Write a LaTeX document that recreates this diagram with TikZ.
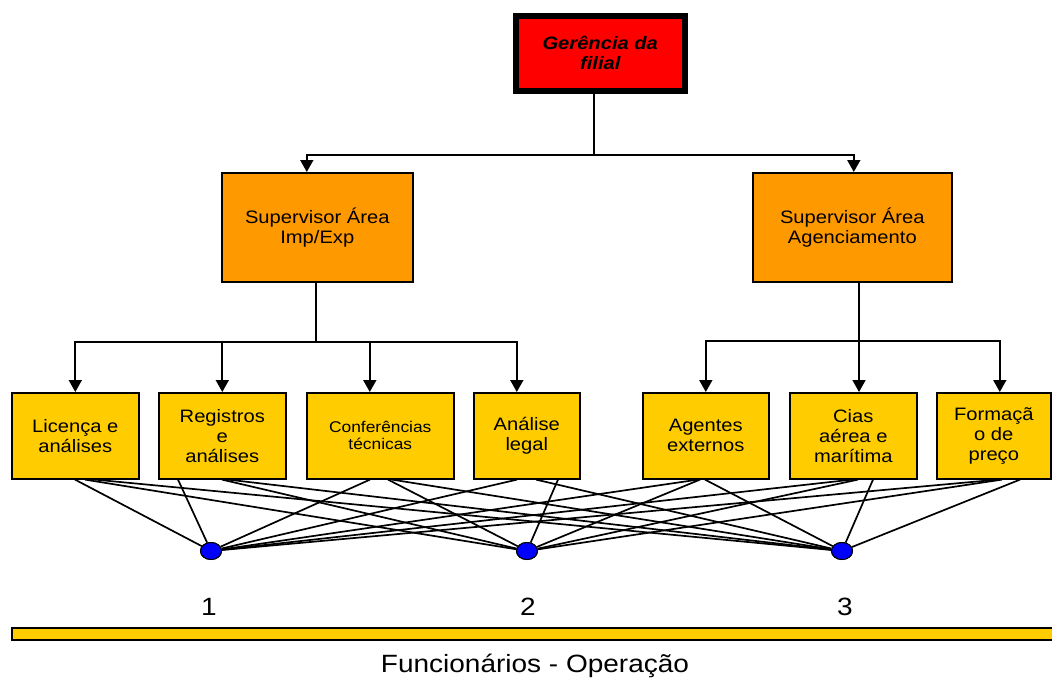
\documentclass[tikz,border=0pt]{standalone}
\usepackage{fontspec}
\setmainfont{Liberation Sans}[FakeStretch=1.12]
\usetikzlibrary{arrows.meta,shapes.geometric}
\definecolor{topred}{HTML}{FF0000}
\definecolor{suporange}{HTML}{FF9900}
\definecolor{leafyellow}{HTML}{FFCC00}
\definecolor{dotblue}{HTML}{0000FF}
\begin{document}
\begin{tikzpicture}[x=1pt,y=-1pt,
  box/.style={draw, line width=1.6pt, align=center, inner sep=0pt, anchor=north west,
              font=\fontsize{18}{20}\selectfont},
  leaf/.style={box, fill=leafyellow, minimum height=86pt},
  sup/.style={box, fill=suporange, minimum height=109pt},
  conn/.style={line width=1.7pt},
  arr/.style={conn, -{Triangle[width=13pt,length=12pt]}},
  dot/.style={ellipse, draw, fill=dotblue, line width=1pt, minimum width=21pt,
              minimum height=17pt, inner sep=0pt},
  num/.style={font=\fontsize{25}{28}\selectfont}]
\useasboundingbox (0,0) rectangle (1052,680);

% top box
\node[box, fill=topred, line width=5.5pt, minimum width=169pt, minimum height=75pt,
      font=\fontsize{18}{20}\selectfont\bfseries\itshape] (g) at (513,13) {Gerência da\\filial};
% supervisors
\node[sup, minimum width=191pt] (s1) at (221,172) {Supervisor Área\\Imp/Exp};
\node[sup, minimum width=199pt] (s2) at (752,172) {Supervisor Área\\Agenciamento};

% dots
\node[dot] (d1) at (211,551) {};
\node[dot] (d2) at (527,551) {};
\node[dot] (d3) at (842,551) {};

% top tree
\coordinate (j0) at (594,155);
\draw[conn] (j0 |- g.south) -- (j0);
\draw[arr] (j0) -| ([xshift=-10.5]s1.north);
\draw[arr] (j0) -| ([xshift=1.5]s2.north);

% leaves
\node[leaf, minimum width=127pt] (b1) at (11,392) {Licença e\\análises};
\node[leaf, minimum width=127pt] (b2) at (158,392) {Registros\\e\\análises};
\node[leaf, minimum width=147pt, font=\fontsize{15.5}{17}\selectfont] (b3) at (306,392) {Conferências\\técnicas};
\node[leaf, minimum width=106pt] (b4) at (473,392) {Análise\\legal};
\node[leaf, minimum width=126pt] (b5) at (642,392) {Agentes\\externos};
\node[leaf, minimum width=127pt] (b6) at (789,392) {Cias\\aérea e\\marítima};
\node[leaf, minimum width=114pt] (b7) at (936,392) {Formaçã\\o de\\preço};

% left sub-tree
\coordinate (j1) at (316,342);
\draw[conn] (j1 |- s1.south) -- (j1);
\draw[arr] (j1) -| (b1.north);
\draw[arr] (j1) -| (b2.north);
\draw[arr] (j1) -| ([xshift=-10.5]b3.north);
\draw[arr] (j1) -| ([xshift=-10]b4.north);

% right sub-tree
\coordinate (j2) at (859,341);
\draw[conn] (j2 |- s2.south) -- (j2);
\draw[arr] (j2) -| (b5.north);
\draw[arr] (j2) -- (j2 |- b6.north);
\draw[arr] (j2) -| ([xshift=6]b7.north);

% many-to-many connectors
\draw[conn] ([xshift=64]b1.south west) -- (d1);
\draw[conn] ([xshift=74]b1.south west) -- (d2);
\draw[conn] ([xshift=84]b1.south west) -- (d3);
\draw[conn] ([xshift=20]b2.south west) -- (d1);
\draw[conn] ([xshift=64]b2.south west) -- (d2);
\draw[conn] ([xshift=70]b2.south west) -- (d3);
\draw[conn] ([xshift=64]b3.south west) -- (d1);
\draw[conn] ([xshift=82]b3.south west) -- (d2);
\draw[conn] ([xshift=86]b3.south west) -- (d3);
\draw[conn] ([xshift=44]b4.south west) -- (d1);
\draw[conn] ([xshift=85]b4.south west) -- (d2);
\draw[conn] ([xshift=63]b4.south west) -- (d3);
\draw[conn] ([xshift=56]b5.south west) -- (d1);
\draw[conn] ([xshift=58]b5.south west) -- (d2);
\draw[conn] ([xshift=63]b5.south west) -- (d3);
\draw[conn] ([xshift=63]b6.south west) -- (d1);
\draw[conn] ([xshift=69]b6.south west) -- (d2);
\draw[conn] ([xshift=84]b6.south west) -- (d3);
\draw[conn] ([xshift=62]b7.south west) -- (d1);
\draw[conn] ([xshift=66]b7.south west) -- (d2);
\draw[conn] ([xshift=84]b7.south west) -- (d3);

% dots on top
\node[dot] at (d1) {};
\node[dot] at (d2) {};
\node[dot] at (d3) {};

% numbers, bar, label
\node[num] (n1) at (209,607) {1};
\node[num] (n2) at (528,607) {2};
\node[num] (n3) at (845,607) {3};
\node[draw, fill=leafyellow, line width=1.6pt, anchor=north west, minimum width=1050pt,
      minimum height=12pt, inner sep=0pt] (bar) at (11,627) {};
\node[num] (lab) at (535,666) {Funcionários - Operação};
\end{tikzpicture}
\end{document}
